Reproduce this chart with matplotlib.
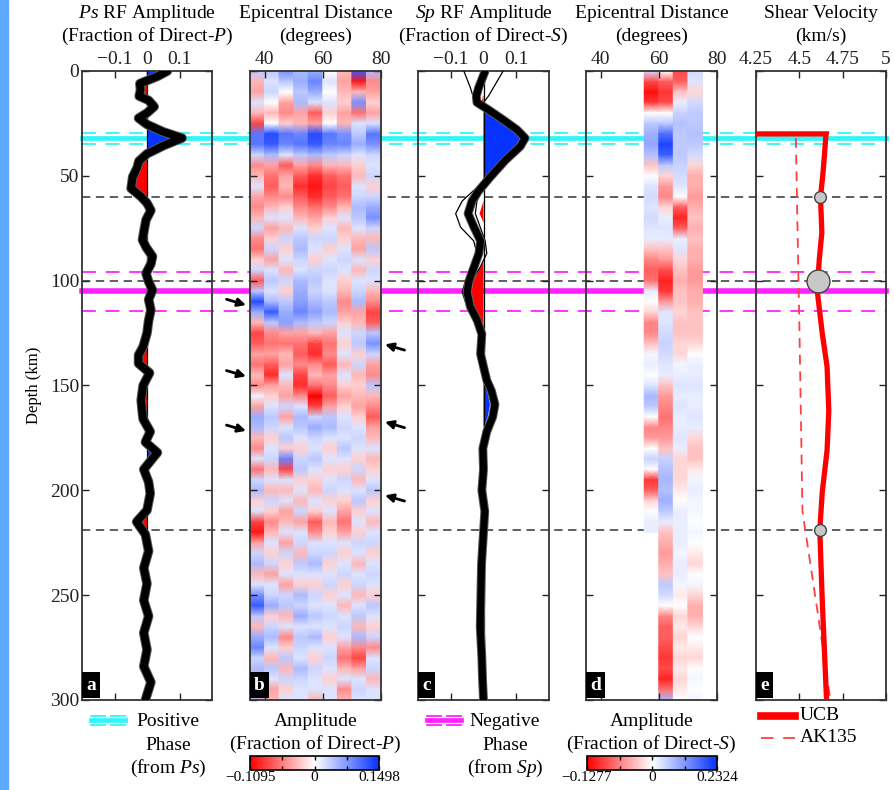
import matplotlib
matplotlib.use('Agg')
import matplotlib.pyplot as plt
import numpy as np
import matplotlib.transforms as mtransforms
import matplotlib.patheffects as pe
from matplotlib.colors import LinearSegmentedColormap, TwoSlopeNorm
from matplotlib.lines import Line2D
from matplotlib.patches import Rectangle

plt.rcParams['font.family'] = ['Liberation Serif', 'DejaVu Serif']
plt.rcParams['mathtext.fontset'] = 'custom'
plt.rcParams['mathtext.rm'] = 'Liberation Serif'
plt.rcParams['mathtext.it'] = 'Liberation Serif:italic'
plt.rcParams['lines.scale_dashes'] = False

# ---------------- data ----------------
# Ps receiver function (panel a)
ps_depth = [0, 2.5, 6, 9, 12, 14, 17, 20, 22.5, 25.5,
            29, 32, 35.5, 39.5, 43, 46, 50.5, 56, 60, 63,
            66.5, 71, 76, 80.5, 84, 88.5, 92, 96.5, 100.5, 104.5,
            109, 114, 119, 125, 131.5, 135.5, 139.5, 144, 150, 157,
            162, 166, 172, 177, 182, 190, 196, 201.5, 209.5, 215,
            221, 229, 237, 244.5, 252.5, 260, 268, 276, 284, 291.5,
            300]
ps_amp = [0.063, 0.033, -0.022, -0.02, -0.024, 0.005, 0.022, 0.0, -0.026, 0.0,
          0.05, 0.108, 0.052, 0.0, -0.025, -0.03, -0.044, -0.049, -0.018, 0.0,
          0.012, -0.003, -0.009, -0.014, -0.003, 0.017, 0.012, -0.003, 0.005, 0.017,
          0.005, 0.012, 0.005, 0.0, -0.012, -0.026, -0.026, 0.008, -0.012, -0.018,
          -0.015, -0.012, 0.01, -0.005, 0.032, -0.01, 0.005, 0.01, 0.0, -0.032,
          -0.005, 0.005, -0.01, 0.0, -0.01, 0.005, -0.01, 0.0, -0.01, 0.012,
          -0.005]
ps_err = 0.005

# Sp receiver function (panel c)
sp_depth = [0, 4, 8, 12, 15, 18.5, 23.5, 28, 32, 36,
            42.5, 50.5, 57, 62, 68, 74.5, 81, 87, 93.5, 100,
            105.5, 112.5, 119, 125.5, 135, 141, 147.5, 152.5, 159, 165,
            172, 180, 190, 200, 210, 220, 235, 250, 265, 280,
            290, 300]
sp_amp = [0.005, -0.005, -0.015, -0.022, -0.02, 0.015, 0.062, 0.102, 0.127, 0.112,
          0.067, 0.021, -0.014, -0.035, -0.047, -0.029, -0.009, -0.014, -0.029, -0.044,
          -0.05, -0.04, -0.019, -0.005, -0.009, 0.0, 0.01, 0.024, 0.035, 0.028,
          0.01, -0.002, 0.0, -0.005, 0.004, 0.0, -0.006, -0.008, -0.01, -0.005,
          -0.003, 0.0]
sp_err = [0.03, 0.03, 0.03, 0.02, 0.015, 0.015, 0.015, 0.015, 0.015, 0.015,
          0.015, 0.015, 0.03, 0.035, 0.035, 0.035, 0.03, 0.03, 0.02, 0.013,
          0.013, 0.013, 0.013, 0.013, 0.013, 0.013, 0.013, 0.013, 0.015, 0.015,
          0.015, 0.015, 0.015, 0.015, 0.015, 0.015, 0.015, 0.015, 0.015, 0.015,
          0.015, 0.015]
sp_alt1 = [-0.06, -0.05, -0.04, -0.032, -0.025, 0.005, 0.055, 0.10, 0.13, 0.118,
           0.072, 0.02, -0.03, -0.065, -0.085, -0.07, -0.03, -0.02, -0.035, -0.055,
           -0.065, -0.05, -0.022, -0.005, -0.009, 0.0, 0.01, 0.024, 0.035, 0.028,
           0.01, -0.002, 0.0, -0.005, 0.004, 0.0, -0.006, -0.008, -0.01, -0.005,
           -0.003, 0.0]
sp_alt2 = [0.06, 0.045, 0.03, 0.015, 0.0, 0.02, 0.065, 0.105, 0.132, 0.118,
           0.07, 0.025, -0.005, -0.02, -0.025, -0.01, 0.005, 0.01, -0.01, -0.035,
           -0.042, -0.035, -0.015, -0.005, -0.009, 0.0, 0.01, 0.024, 0.035, 0.028,
           0.01, -0.002, 0.0, -0.005, 0.004, 0.0, -0.006, -0.008, -0.01, -0.005,
           -0.003, 0.0]

# binned amplitudes vs epicentral distance, sampled every 5 km of depth
grid_depth = np.arange(0, 301, 5)
ps_bin_edges = [35, 40, 45, 50, 55, 60, 65, 70, 75, 80]
ps_bin_35 = [0.04, -0.03, -0.04, 0.02, -0.03, -0.08, 0.10, 0.10, 0.03, -0.05,
             -0.03, 0.02, -0.04, -0.05, -0.03, 0.03, -0.05, -0.06, -0.02, 0.03,
             -0.07, 0.04, 0.13, 0.06, -0.03, -0.08, -0.07, -0.04, -0.06, -0.03,
             -0.05, 0.01, -0.04, 0.06, 0.05, -0.03, -0.05, 0.02, -0.06, 0.03,
             0.05, -0.02, 0.02, -0.08, -0.10, -0.04, 0.03, 0.05, -0.03, 0.02,
             0.08, 0.12, 0.04, -0.03, 0.06, 0.09, 0.03, 0.05, -0.04, -0.06,
             0.05]
ps_bin_40 = [0.04, 0.02, 0.03, 0.0, -0.03, 0.0, 0.13, 0.12, 0.05, -0.04,
             -0.06, -0.07, -0.05, -0.03, 0.02, -0.04, -0.02, 0.03, -0.04, 0.02,
             0.04, 0.02, 0.05, 0.12, 0.04, -0.05, -0.06, -0.04, -0.07, -0.09,
             -0.04, -0.02, 0.02, 0.04, 0.03, -0.02, 0.02, 0.03, -0.03, 0.02,
             -0.03, 0.03, -0.02, -0.05, -0.03, 0.02, -0.02, 0.03, -0.04, 0.02,
             0.03, 0.06, -0.02, 0.03, 0.05, 0.02, -0.03, 0.04, 0.02, -0.04,
             -0.03]
ps_bin_45 = [0.08, 0.04, 0.0, -0.04, -0.05, -0.02, 0.10, 0.09, 0.02, -0.07,
             -0.04, -0.03, -0.05, -0.02, 0.02, -0.03, 0.03, -0.02, 0.02, -0.03,
             0.03, -0.02, 0.04, 0.06, 0.07, -0.04, -0.06, -0.03, -0.04, 0.02,
             -0.03, -0.04, 0.03, -0.04, 0.02, 0.04, -0.02, 0.09, -0.08, 0.02,
             -0.03, 0.02, -0.04, -0.03, 0.02, -0.04, 0.03, -0.02, 0.02, -0.04,
             0.03, 0.04, -0.03, 0.02, -0.05, -0.02, 0.04, -0.03, 0.03, -0.02,
             0.02]
ps_bin_50 = [0.05, 0.06, 0.04, 0.05, -0.04, -0.03, 0.09, 0.10, 0.04, -0.04,
             -0.07, -0.09, -0.07, -0.05, -0.03, 0.02, 0.04, 0.05, 0.03, 0.02,
             0.05, 0.06, 0.07, 0.09, 0.05, -0.04, -0.06, -0.07, -0.05, -0.08,
             -0.09, -0.05, 0.02, 0.05, 0.04, 0.02, -0.02, 0.03, 0.04, -0.02,
             0.02, -0.03, 0.03, -0.04, 0.02, 0.03, -0.03, 0.04, 0.02, -0.02,
             0.05, 0.03, 0.06, 0.02, 0.04, 0.03, 0.02, 0.05, 0.03, 0.02,
             0.02]
ps_bin_55 = [0.06, 0.09, 0.06, 0.02, -0.07, -0.04, 0.13, 0.12, 0.05, -0.05,
             -0.09, -0.10, -0.09, -0.06, -0.04, -0.02, 0.03, 0.02, -0.02, 0.03,
             0.04, 0.03, 0.05, 0.07, 0.04, -0.03, -0.08, -0.09, -0.05, -0.03,
             -0.06, -0.11, -0.08, 0.03, 0.06, 0.03, 0.02, 0.04, 0.02, -0.02,
             -0.03, 0.02, -0.02, -0.07, -0.05, 0.02, 0.03, 0.05, 0.02, -0.02,
             0.03, 0.02, 0.04, 0.02, 0.05, 0.02, -0.02, 0.03, 0.02, 0.02,
             -0.03]
ps_bin_60 = [0.0, 0.02, 0.0, 0.02, -0.02, 0.0, 0.10, 0.09, 0.04, -0.03,
             -0.07, -0.08, -0.07, -0.05, -0.02, 0.02, 0.03, -0.02, 0.02, 0.03,
             0.02, 0.02, 0.04, 0.05, 0.03, -0.04, -0.06, -0.05, -0.07, -0.04,
             -0.05, -0.07, -0.04, 0.04, 0.05, 0.02, -0.02, 0.02, -0.02, 0.02,
             0.03, -0.02, 0.02, -0.03, -0.02, 0.02, 0.03, -0.02, 0.02, 0.03,
             -0.02, 0.02, 0.03, 0.02, -0.02, 0.02, 0.03, 0.02, -0.02, 0.02,
             0.02]
ps_bin_65 = [-0.03, -0.04, -0.03, -0.02, -0.04, -0.03, 0.08, 0.09, 0.03, -0.03,
             -0.06, -0.07, -0.06, -0.03, 0.02, -0.03, -0.02, 0.02, 0.03, 0.02,
             -0.02, -0.03, -0.05, -0.04, -0.02, 0.02, -0.02, 0.02, -0.03, 0.02,
             -0.02, -0.04, -0.02, 0.02, 0.03, 0.02, 0.04, 0.02, -0.02, 0.03,
             0.02, -0.02, -0.04, -0.06, -0.04, 0.02, -0.02, 0.02, 0.03, -0.02,
             0.02, -0.03, 0.02, 0.03, 0.02, -0.04, -0.06, -0.03, 0.02, -0.05,
             -0.03]
ps_bin_70 = [0.12, -0.10, -0.03, 0.08, -0.06, 0.02, 0.04, 0.06, 0.02, -0.02,
             -0.03, 0.02, 0.03, 0.05, 0.04, 0.02, -0.03, -0.04, 0.02, -0.03,
             0.02, 0.03, 0.05, -0.04, -0.03, 0.03, 0.04, -0.02, 0.03, -0.03,
             -0.02, -0.03, -0.04, -0.02, 0.02, 0.03, 0.02, -0.02, 0.03, -0.03,
             0.02, 0.04, -0.02, 0.02, -0.02, 0.03, 0.02, -0.03, 0.02, 0.03,
             -0.03, 0.02, 0.04, -0.03, 0.05, -0.05, -0.08, -0.04, 0.02, 0.03,
             0.02]
ps_bin_75 = [0.05, -0.05, -0.04, -0.02, -0.04, 0.02, 0.10, 0.08, 0.03, 0.02,
             0.03, -0.02, 0.03, 0.06, 0.08, 0.03, -0.03, 0.04, -0.02, 0.03,
             0.02, -0.03, -0.05, -0.08, -0.07, 0.04, 0.08, 0.03, -0.04, -0.05,
             0.04, -0.03, -0.05, -0.07, -0.04, -0.03, 0.02, -0.03, -0.02, 0.02,
             0.04, -0.02, 0.02, -0.03, 0.02, 0.03, -0.02, 0.02, 0.03, 0.02,
             -0.02, 0.04, 0.02, -0.02, 0.03, -0.05, 0.02, 0.03, -0.03, 0.02,
             0.02]

nan = np.nan
sp_bin_edges = [55, 60, 65, 70, 75]
sp_bin_55 = [0.04, -0.09, -0.12, -0.10, 0.0, 0.06, 0.09, 0.10, 0.07, -0.03,
             0.0, 0.03, 0.04, 0.03, 0.04, 0.03, 0.02, -0.03, -0.06, -0.08,
             -0.07, 0.02, 0.0, -0.02, -0.06, -0.06, -0.03, 0.01, 0.02, 0.0,
             0.03, 0.08, 0.06, 0.0, -0.06, -0.05, 0.0, 0.05, 0.0, -0.10,
             -0.08, -0.02, 0.0, 0.02, 0.02, nan, nan, nan, nan, nan,
             nan, nan, nan, nan, nan, nan, nan, nan, nan, nan,
             nan]
sp_bin_60 = [0.0, -0.08, -0.10, -0.09, 0.0, 0.06, 0.16, 0.21, 0.18, 0.06,
             -0.02, -0.05, -0.06, -0.02, 0.02, 0.03, 0.02, -0.03, -0.05, -0.09,
             -0.11, -0.10, -0.05, 0.03, 0.03, 0.04, 0.05, 0.04, 0.03, 0.02,
             -0.03, -0.05, -0.06, -0.07, -0.06, -0.05, -0.03, 0.05, 0.07, 0.08,
             0.07, 0.09, 0.06, 0.02, -0.03, -0.04, -0.05, -0.04, -0.03, 0.06,
             0.04, 0.0, -0.06, -0.08, -0.08, -0.09, -0.10, -0.09, -0.11, -0.07,
             0.08]
sp_bin_65 = [-0.09, -0.08, -0.03, 0.02, 0.05, 0.07, 0.06, 0.06, 0.06, 0.05,
             0.04, 0.03, 0.0, -0.08, -0.11, -0.08, 0.02, 0.03, -0.02, -0.03,
             -0.04, -0.03, -0.03, -0.02, -0.03, -0.03, -0.02, -0.02, 0.01, 0.02,
             0.03, 0.02, 0.03, 0.02, 0.02, 0.03, 0.02, -0.02, -0.02, -0.02,
             -0.01, 0.0, 0.02, 0.02, 0.02, 0.02, 0.01, 0.02, 0.02, 0.01,
             -0.01, 0.0, -0.02, -0.01, -0.02, -0.01, -0.02, -0.01, -0.02, -0.01,
             0.0]
sp_bin_70 = [0.04, 0.03, -0.02, 0.04, 0.06, 0.06, 0.07, 0.06, 0.04, -0.02,
             -0.04, -0.04, -0.05, -0.04, -0.03, -0.04, -0.03, -0.04, -0.04, -0.05,
             -0.05, -0.04, -0.04, -0.03, -0.03, -0.03, -0.02, 0.0, 0.02, 0.02,
             0.03, 0.02, 0.02, 0.03, 0.02, -0.02, -0.03, -0.03, -0.01, 0.01,
             0.02, 0.01, 0.01, 0.0, 0.01, 0.0, -0.01, -0.02, 0.0, 0.01,
             -0.02, -0.04, -0.04, -0.02, 0.0, -0.01, -0.02, 0.0, 0.01, 0.0,
             0.01]

ps_cbar_range = (-0.1095, 0.1498)
sp_cbar_range = (-0.1277, 0.2324)

# shear velocity (panel e)
ucb_depth = [30, 30, 32, 40, 50, 60, 77, 90, 100, 106, 125, 141, 162, 181, 201, 219, 252, 300]
ucb_vs = [4.25, 4.655, 4.652, 4.645, 4.635, 4.622, 4.63, 4.615, 4.607, 4.605,
          4.632, 4.66, 4.67, 4.66, 4.632, 4.618, 4.632, 4.657]
ak135_depth = [32, 77.5, 120, 165, 210, 260, 300]
ak135_vs = [4.48, 4.49, 4.50, 4.509, 4.518, 4.609, 4.679]
circle_depth = [60, 100, 219]
circle_vs = [4.622, 4.607, 4.618]
circle_size = [8.5, 16.5, 8.5]

# interpreted phases / model depths
pos_phase = 32
pos_bounds = [29.5, 35]
neg_phase = 105
neg_bounds = [96, 114.5]
model_depths = [60, 100, 219]
arrows_left = [111, 145, 171]
arrows_right = [131, 168, 203]

# ---------------- figure ----------------
W, H = 894, 790
fig = plt.figure(figsize=(W / 100, H / 100), dpi=100)
fig.add_artist(Rectangle((0, 0), 8 / W, 1, transform=fig.transFigure,
                         color='#5fa8ff', zorder=-5))


def fx(x):
    return x / W


def fy(y):
    return 1 - y / H


red = '#ff0000'
blue = '#0633ff'
cmap = LinearSegmentedColormap.from_list('rwb', [red, 'white', blue])
top, bot = 71, 700
panel_x = {'a': (82, 212), 'b': (250, 381), 'c': (418, 549), 'd': (586, 717), 'e': (756, 886)}
axes = {}
for k, (x0, x1) in panel_x.items():
    ax = fig.add_axes([fx(x0), fy(bot), (x1 - x0) / W, (bot - top) / H])
    ax.set_facecolor('none')
    ax.set_ylim(300, 0)
    ax.set_yticks(np.arange(0, 301, 50))
    ax.tick_params(direction='in', length=5, width=1, top=True, bottom=True,
                   left=True, right=True, labeltop=True, labelbottom=False,
                   labelleft=(k == 'a'), labelsize=14, pad=2, colors='#222222')
    for s in ax.spines.values():
        s.set_linewidth(1.3)
        s.set_color('#333333')
    ax.text(0.03, 0.01, k, transform=ax.transAxes, ha='left', va='bottom',
            color='white', fontsize=14, fontweight='bold', zorder=10,
            bbox=dict(boxstyle='square,pad=0.22', fc='black', ec='none'))
    axes[k] = ax

axes['a'].set_ylabel('Depth (km)', fontsize=12, labelpad=6)

# long horizontal marker lines spanning all panels
trans = mtransforms.blended_transform_factory(fig.transFigure, axes['a'].transData)
xl = [fx(82), fx(886)]


def hline(d, **kw):
    fig.add_artist(Line2D(xl, [d, d], transform=trans, zorder=-1, **kw))


hline(pos_phase, color='#33f5f5', lw=3.4)
for d in pos_bounds:
    hline(d, color='#33f5f5', lw=1.3, dashes=(10, 7))
hline(neg_phase, color='#ff22ff', lw=4.0)
for d in neg_bounds:
    hline(d, color='#ff22ff', lw=1.3, dashes=(10, 7))
for d in model_depths:
    hline(d, color='#333333', lw=1.1, dashes=(6, 4))


def trace_panel(ax, depth, amp, err, lw):
    depth = np.asarray(depth, float)
    amp = np.asarray(amp, float)
    err = np.broadcast_to(np.asarray(err, float), amp.shape)
    lo = amp - err
    hi = amp + err
    ax.fill_betweenx(depth, 0, lo, where=lo > 0, interpolate=True, color=blue, lw=0, zorder=2)
    ax.fill_betweenx(depth, hi, 0, where=hi < 0, interpolate=True, color=red, lw=0, zorder=2)
    ax.axvline(0, color='black', lw=0.9, zorder=3)
    ax.plot(amp, depth, color='black', lw=lw, solid_joinstyle='round',
            solid_capstyle='round', zorder=5,
            path_effects=[pe.Stroke(linewidth=lw + 1.4, foreground='#5a5a5a'), pe.Normal()])


# panel a
ax = axes['a']
trace_panel(ax, ps_depth, ps_amp, ps_err, 5.5)
ax.set_xlim(-0.2, 0.2)
ax.set_xticks([-0.1, 0, 0.1])
ax.set_xticklabels(['\u22120.1', '0', '0.1'])

# panel c
ax = axes['c']
ax.plot(sp_alt1, sp_depth, color='black', lw=0.9, zorder=4)
ax.plot(sp_alt2, sp_depth, color='black', lw=0.9, zorder=4)
trace_panel(ax, sp_depth, sp_amp, sp_err, 5.0)
ax.set_xlim(-0.2, 0.2)
ax.set_xticks([-0.1, 0, 0.1])
ax.set_xticklabels(['\u22120.1', '0', '0.1'])


def heat_columns(ax, edges, cols, norm):
    for e0, e1, vals in zip(edges[:-1], edges[1:], cols):
        v = np.asarray(vals, float)
        ok = ~np.isnan(v)
        d = grid_depth[ok]
        X = np.tile([e0, e1], (ok.sum(), 1))
        Y = np.column_stack([d, d])
        C = np.column_stack([v[ok], v[ok]])
        ax.pcolormesh(X, Y, C, cmap=cmap, norm=norm, shading='gouraud', zorder=1)
    ax.set_xlim(35, 80)
    ax.set_xticks([40, 60, 80])


ps_norm = TwoSlopeNorm(0, *ps_cbar_range)
sp_norm = TwoSlopeNorm(0, *sp_cbar_range)
heat_columns(axes['b'], ps_bin_edges,
             [ps_bin_35, ps_bin_40, ps_bin_45, ps_bin_50, ps_bin_55,
              ps_bin_60, ps_bin_65, ps_bin_70, ps_bin_75], ps_norm)
heat_columns(axes['d'], sp_bin_edges,
             [sp_bin_55, sp_bin_60, sp_bin_65, sp_bin_70], sp_norm)

# arrows beside panel b
ax = axes['b']
for d in arrows_left:
    ax.annotate('', xy=(-0.01, d + 1), xycoords=('axes fraction', 'data'),
                xytext=(-0.2, d - 2.5), textcoords=('axes fraction', 'data'),
                arrowprops=dict(arrowstyle='-|>', color='black', lw=2, mutation_scale=12),
                annotation_clip=False)
for d in arrows_right:
    ax.annotate('', xy=(1.01, d - 1), xycoords=('axes fraction', 'data'),
                xytext=(1.2, d + 2.5), textcoords=('axes fraction', 'data'),
                arrowprops=dict(arrowstyle='-|>', color='black', lw=2, mutation_scale=12),
                annotation_clip=False)

# panel e
ax = axes['e']
ax.plot(ak135_vs, ak135_depth, color='#ff4040', lw=1.3, dashes=(7, 5), zorder=3)
ax.plot(ucb_vs, ucb_depth, color=red, lw=3.8, solid_joinstyle='miter', zorder=4)
for d, v, s in zip(circle_depth, circle_vs, circle_size):
    ax.plot(v, d, 'o', ms=s, mfc='#c8c8c8', mec='#444444', mew=1.0, zorder=6)
ax.set_xlim(4.25, 5.0)
ax.set_xticks([4.25, 4.5, 4.75, 5.0])
ax.set_xticklabels(['4.25', '4.5', '4.75', '5'])

# titles
titles = {
    'a': ('$Ps$ RF Amplitude', '(Fraction of Direct-$P$)'),
    'b': ('Epicentral Distance', '(degrees)'),
    'c': ('$Sp$ RF Amplitude', '(Fraction of Direct-$S$)'),
    'd': ('Epicentral Distance', '(degrees)'),
    'e': ('Shear Velocity', '(km/s)'),
}
for k, (l1, l2) in titles.items():
    x0, x1 = panel_x[k]
    xc = fx((x0 + x1) / 2)
    fig.text(xc, fy(14), l1, ha='center', va='center', fontsize=14)
    fig.text(xc, fy(36), l2, ha='center', va='center', fontsize=14)


# legend-like annotations below panels
def phase_symbol(x0, x1, yc, color):
    xm = (x0 + x1) / 2
    fig.add_artist(Line2D([fx(x0), fx(x1)], [fy(yc), fy(yc)], color=color, lw=3.4))
    for dy in (-4.5, 4.5):
        for a, b in ((x0, xm - 3), (xm + 3, x1)):
            fig.add_artist(Line2D([fx(a), fx(b)], [fy(yc + dy), fy(yc + dy)], color=color, lw=1.3))


phase_symbol(91, 125, 720, '#33f5f5')
for i, t in enumerate(['Positive', 'Phase', '(from $Ps$)']):
    fig.text(fx(168), fy(722 + 23 * i), t, ha='center', va='center', fontsize=14)
phase_symbol(427, 461, 720, '#ff22ff')
for i, t in enumerate(['Negative', 'Phase', '(from $Sp$)']):
    fig.text(fx(505), fy(722 + 23 * i), t, ha='center', va='center', fontsize=14)

for k, lab in (('b', '(Fraction of Direct-$P$)'), ('d', '(Fraction of Direct-$S$)')):
    x0, x1 = panel_x[k]
    xc = fx((x0 + x1) / 2)
    fig.text(xc, fy(722), 'Amplitude', ha='center', va='center', fontsize=14)
    fig.text(xc, fy(744), lab, ha='center', va='center', fontsize=14)


def colorbar(x0, x1, norm, rng):
    cax = fig.add_axes([fx(x0), fy(770), (x1 - x0) / W, 14 / H])
    sm = plt.cm.ScalarMappable(norm=norm, cmap=cmap)
    cb = fig.colorbar(sm, cax=cax, orientation='horizontal')
    lo, hi = rng
    cb.set_ticks([lo, lo / 2, 0, hi / 2, hi])
    cb.set_ticklabels(['\u2212%.4f' % abs(lo), '', '0', '', '%.4f' % hi])
    cax.tick_params(direction='in', length=3, width=1, top=True, bottom=True,
                    labelsize=11, pad=1)
    cb.outline.set_linewidth(1.2)


colorbar(250, 379, ps_norm, ps_cbar_range)
colorbar(587, 717, sp_norm, sp_cbar_range)

# panel e legend
fig.add_artist(Line2D([fx(761), fx(795)], [fy(716), fy(716)], color=red, lw=5.5))
fig.text(fx(800), fy(716), 'UCB', ha='left', va='center', fontsize=14)
fig.add_artist(Line2D([fx(761), fx(795)], [fy(738), fy(738)], color='#ff4040', lw=1.3, dashes=(9, 7)))
fig.text(fx(800), fy(738), 'AK135', ha='left', va='center', fontsize=14)

fig.savefig('out.png', dpi=100)
